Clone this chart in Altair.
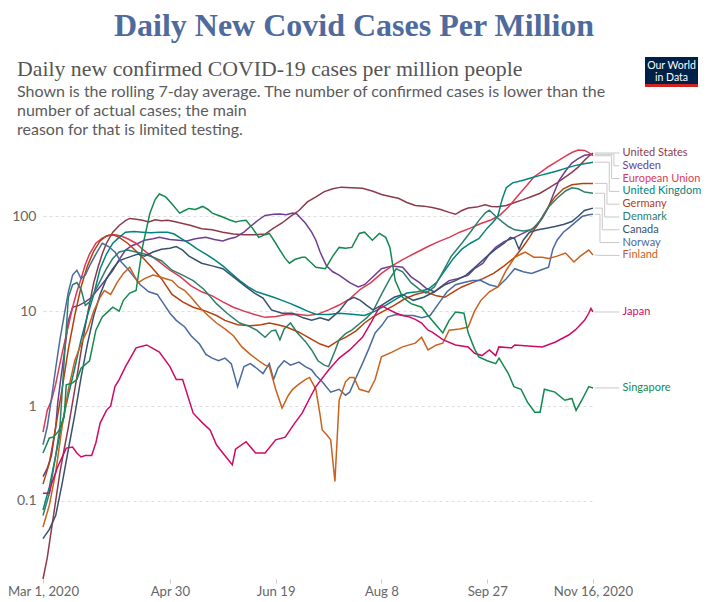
import math

import altair as alt
import pandas as pd

START = pd.Timestamp("2020-03-01")

COUNTRIES = [
    "United States", "Sweden", "European Union", "United Kingdom", "Germany",
    "Denmark", "Canada", "Norway", "Finland", "Japan", "Singapore",
]
COLORS = [
    "#8C3A4B", "#6D3E91", "#DD3A55", "#00847E", "#B5400F",
    "#2D7F6A", "#36526E", "#4C6A9C", "#C9621D", "#CF0A66", "#12894F",
]

# (days after Mar 1 2020, 7-day average cases per million)
united_states = [(0, 0.015), (2, 0.025), (4, 0.05), (6, 0.1), (8, 0.2), (10, 0.35), (12, 0.6), (14, 1.1), (16, 2), (18, 3.8), (20, 7), (22, 12), (24, 20), (26, 29), (28, 40), (30, 52), (33, 68), (36, 80), (39, 90), (41, 95), (44, 93), (47, 91), (50, 87), (53, 92), (56, 90), (59, 91), (62, 88), (66, 84), (70, 80), (75, 74), (80, 72), (85, 68), (90, 65), (95, 64), (100, 64), (105, 65), (109, 75), (113, 85), (117, 100), (121, 115), (125, 142), (129, 160), (133, 182), (137, 195), (141, 203), (146, 200), (151, 198), (156, 184), (160, 170), (164, 162), (168, 155), (172, 140), (176, 130), (180, 128), (184, 124), (188, 118), (192, 110), (195, 105), (198, 115), (201, 122), (205, 125), (209, 132), (212, 127), (215, 126), (219, 130), (223, 140), (227, 150), (231, 162), (235, 175), (239, 198), (243, 225), (247, 260), (250, 290), (253, 330), (256, 390), (258, 430), (260, 465)]
sweden = [(0, 0.18), (2, 0.22), (4, 0.3), (6, 0.6), (7, 1.1), (8.5, 2), (10, 3.5), (12, 8), (14, 11), (17, 11.5), (20, 12.5), (23, 14), (26, 17), (30, 22), (33, 27), (36, 35), (39, 44), (42, 49), (45, 52), (48, 56), (52, 58), (55, 60), (60, 57), (64, 56), (68, 55), (72, 58), (77, 60), (81, 57), (85, 55), (88, 58), (91, 60), (95, 68), (98, 78), (102, 92), (105, 102), (109, 105), (112, 106), (115, 104), (118, 108), (120, 106), (122, 95), (124, 85), (127, 68), (129, 56), (131, 42), (134, 30), (137, 26), (140, 24), (145, 20), (149, 18), (152, 19), (155, 22), (160, 28), (165, 30), (170, 29), (174, 23), (178, 20), (181, 17.5), (185, 16), (188, 18), (192, 21), (196, 22), (201, 24), (204, 28), (208, 32), (211, 40), (214, 47), (218, 54), (223, 60), (228, 68), (233, 77), (236, 95), (239, 125), (241, 165), (244, 240), (247, 300), (250, 364), (253, 405), (256, 440), (260, 450)]
european_union = [(0, 0.53), (2, 0.9), (4, 1.15), (6, 1.7), (8, 2.8), (10, 4.5), (12, 7), (14, 11), (16, 16), (18, 22), (20, 31), (22, 40), (25, 52), (28, 59), (31, 63), (34, 64), (37, 62), (40, 58), (44, 52), (47, 45), (50, 40), (55, 33), (60, 27), (65, 23), (70, 18.5), (75, 16), (80, 14.5), (85, 12.5), (90, 11), (95, 10), (100, 9.2), (105, 8.6), (110, 8.8), (115, 9.2), (120, 9.3), (125, 9), (130, 9.3), (135, 10.3), (140, 11.6), (145, 13.5), (150, 17), (155, 20), (160, 25), (165, 30), (170, 35), (176, 41), (182, 48), (187, 54), (192, 60), (197, 68), (202, 75), (207, 84), (212, 92), (216, 103), (220, 125), (223, 150), (226, 180), (229, 215), (232, 260), (236, 300), (239, 335), (243, 380), (247, 430), (250, 470), (253, 500), (256, 495), (258, 470), (260, 435)]
united_kingdom = [(0, 0.08), (3, 0.14), (6, 0.3), (9, 0.65), (12, 1.3), (15, 2.5), (18, 5), (21, 9), (24, 15), (27, 28), (30, 40), (33, 52), (36, 60), (39, 68), (43, 69), (47, 68), (51, 67), (55, 68), (59, 68), (62, 65), (66, 57), (69, 52), (73, 45), (77, 40), (81, 35), (85, 30), (89, 25), (93, 21), (97, 18), (101, 16), (105, 15), (109, 14), (113, 13), (117, 12), (121, 11), (125, 10), (129, 9.3), (135, 9.2), (140, 9.5), (146, 9.3), (152, 9), (157, 10), (162, 11.5), (167, 13.5), (172, 15.5), (177, 16), (182, 17), (186, 20), (190, 27), (194, 36), (198, 45), (202, 52), (206, 58), (210, 75), (213, 88), (215, 100), (217, 150), (219, 200), (222, 225), (227, 240), (231, 255), (235, 270), (239, 285), (243, 300), (247, 320), (251, 340), (255, 355), (258, 365), (260, 372)]
germany = [(0, 0.15), (3, 0.25), (6, 0.6), (9, 1.5), (12, 4), (15, 9), (18, 18), (21, 30), (24, 43), (27, 55), (30, 62), (33, 64), (36, 60), (40, 52), (44, 43), (48, 35), (52, 28), (56, 22), (61, 15), (66, 12.5), (71, 11), (77, 10), (82, 9), (86, 8), (92, 7.2), (98, 7), (103, 7.2), (107, 7.5), (111, 7.2), (115, 6.8), (121, 6), (126, 5.2), (131, 4.5), (135, 4.2), (139, 4.8), (143, 5.3), (148, 6.2), (152, 7.5), (156, 8.7), (161, 10), (166, 11.5), (171, 13.5), (176, 15), (181, 16), (186, 14.5), (190, 14), (194, 16), (198, 18), (203, 20), (208, 22), (213, 25), (218, 30), (223, 37), (227, 48), (230, 60), (233, 78), (236, 98), (239, 128), (242, 160), (246, 195), (250, 215), (255, 222), (260, 222)]
denmark = [(0, 0.07), (3, 0.12), (6, 0.3), (8, 0.6), (10, 3), (12, 14), (14, 19), (16, 20), (18, 17), (20, 11.5), (22, 12.5), (25, 17), (28, 23), (30, 28), (33, 36), (36, 42), (40, 44), (44, 42), (48, 40), (52, 37), (56, 34), (61, 27), (66, 24), (71, 21), (76, 17), (82, 12), (87, 9.5), (93, 7.5), (97, 7), (101, 6.3), (105, 5.3), (108, 6.2), (110, 6.3), (112, 5), (114, 6.5), (117, 7.5), (120, 6), (124, 4.8), (127, 3.9), (130, 3), (133, 2.7), (135, 2.6), (138, 3.8), (140, 5), (143, 5.8), (146, 6.3), (150, 7.5), (153, 8.5), (156, 10), (160, 15), (164, 22), (167, 28), (170, 26), (174, 20), (178, 17), (181, 15.5), (185, 18), (189, 26), (193, 38), (198, 52), (202, 68), (206, 90), (209, 108), (211, 116), (214, 100), (217, 88), (220, 78), (223, 72), (227, 70), (231, 72), (235, 90), (239, 125), (243, 155), (247, 185), (250, 200), (253, 195), (256, 180), (260, 175)]
canada = [(0, 0.04), (3, 0.05), (6, 0.07), (9, 0.15), (12, 0.35), (15, 0.8), (18, 2), (21, 4.5), (24, 9), (27, 15), (30, 22), (33, 28), (36, 34), (39, 36), (42, 38), (45, 40), (48, 38), (52, 42), (56, 45), (60, 46), (63, 48), (66, 44), (69, 38), (75, 32), (80, 30), (85, 28), (90, 23), (96, 18), (100, 15.5), (104, 13.7), (108, 10.3), (113, 9.5), (118, 9.5), (123, 8.5), (127, 8), (131, 8.5), (135, 8), (140, 10), (144, 13), (147, 14), (150, 13), (153, 11.5), (156, 10.3), (160, 11.5), (166, 14), (170, 15), (175, 13), (180, 14), (185, 16), (190, 19), (195, 21), (200, 24), (205, 30), (210, 38), (214, 45), (218, 52), (221, 60), (223, 58), (225, 45), (227, 56), (230, 68), (234, 72), (238, 75), (242, 78), (246, 82), (250, 88), (253, 100), (256, 115), (260, 122)]
norway = [(0, 0.39), (2, 0.6), (4, 1.2), (6, 2.5), (8, 5), (10, 9), (12, 16), (14, 24), (16, 27), (18, 22), (20, 24), (22, 30), (25, 40), (28, 52), (31, 48), (34, 42), (37, 33), (40, 28), (43, 23), (46, 19), (50, 16), (54, 15), (57, 12), (60, 9.5), (63, 8), (67, 6.8), (70, 5.5), (74, 4.5), (77, 3.5), (80, 3.2), (83, 3), (86, 3.2), (89, 2.8), (92, 1.6), (95, 2.6), (98, 2.8), (101, 2.5), (104, 2.2), (107, 2.8), (109, 1.9), (111, 2.5), (114, 3), (117, 2.7), (121, 2.9), (124, 2.6), (127, 2.4), (129, 2.1), (132, 1.8), (136, 1.4), (140, 1.5), (143, 1.3), (145, 1.4), (148, 2), (151, 2.8), (154, 4), (157, 5.9), (160, 7), (163, 8.7), (167, 9.2), (171, 9), (175, 9), (179, 8.5), (183, 9), (187, 12), (191, 16), (195, 19), (199, 20), (203, 21), (207, 21), (211, 19), (215, 18), (219, 22), (223, 28), (227, 26), (231, 25), (235, 27), (239, 29), (241, 45), (243, 56), (246, 68), (249, 77), (252, 88), (255, 100), (258, 104), (260, 105)]
finland = [(0, 0.053), (3, 0.09), (6, 0.2), (9, 0.6), (12, 1.5), (15, 3), (18, 4.5), (21, 6.3), (24, 10), (27, 14), (29, 16.5), (32, 15), (35, 20), (38, 25), (41, 29), (43, 24), (45, 20), (48, 22), (52, 24), (55, 23), (58, 22), (61, 21), (64, 18), (67, 16.5), (70, 14), (74, 11), (78, 9), (82, 7.5), (86, 6.5), (90, 5.5), (94, 4.2), (98, 3.5), (102, 3), (105, 2.7), (107, 2.6), (110, 1.5), (113, 0.95), (116, 1.3), (118, 1.5), (121, 1.7), (124, 1.9), (126, 2), (129, 1.5), (131, 0.8), (132, 0.56), (134, 0.5), (136, 0.44), (138, 0.16), (140, 1.15), (143, 1.8), (145, 2), (147, 2), (149.5, 1.5), (152, 1.45), (154, 1.4), (157, 1.9), (160, 3.3), (165, 3.7), (170, 4.2), (176, 4.6), (179, 5.3), (182, 3.9), (186, 4.4), (189, 4.6), (192, 6.3), (197, 6.5), (201, 6.8), (204, 10), (207, 13), (211, 16), (215, 18), (219, 27), (223, 37), (226, 40), (228, 42), (232, 37), (236, 37), (239, 36), (243, 38), (247, 41), (251, 33), (254, 38), (258, 44), (260, 39)]
japan = [(0, 0.12), (3, 0.12), (4, 0.15), (7, 0.23), (11, 0.36), (14, 0.37), (16, 0.32), (18, 0.29), (20, 0.3), (23, 0.3), (25, 0.41), (27, 0.66), (30, 0.9), (32, 1.0), (34, 1.6), (36, 1.9), (39, 2.6), (44, 4.1), (49, 4.4), (55, 3.7), (60, 2.6), (63, 1.9), (66, 1.9), (71, 0.84), (75.5, 0.66), (79, 0.56), (82, 0.39), (85, 0.32), (89.5, 0.24), (91, 0.35), (96, 0.42), (100.5, 0.32), (105, 0.32), (110, 0.44), (114.5, 0.47), (119, 0.66), (122.5, 0.84), (126, 1.2), (129, 1.6), (135, 2.4), (140, 3.2), (145, 3.9), (151, 5.3), (155, 7.5), (158, 10), (160, 11.5), (163, 10.5), (167, 9.5), (170, 9), (173, 8.7), (176, 8.2), (179, 7.5), (182, 6.3), (184, 6), (189, 5), (195, 4.4), (201, 4.2), (204, 3.6), (207.5, 3.4), (211, 3.9), (214, 3.4), (215.5, 4.2), (221.5, 4.1), (223, 4.4), (229.5, 4.3), (236, 4.2), (242, 4.7), (248.5, 5.6), (251.5, 6.3), (253, 6.8), (256, 8), (258, 9.5), (259, 10.7), (260, 9.8)]
singapore = [(0, 0.32), (3, 0.46), (5, 0.47), (7.5, 0.55), (10, 0.77), (11, 1.67), (14, 1.75), (16, 1.9), (18, 2.5), (22, 3), (25, 6.3), (28, 8.7), (31, 10), (33, 11), (36, 10), (38, 13), (41, 15.5), (44, 16.5), (47, 47), (50.5, 107), (53, 150), (55, 172), (58, 160), (61, 135), (64.6, 108), (67, 115), (69, 121), (72, 118), (75.5, 127), (78, 118), (80, 108), (84, 100), (88, 92), (91, 87), (94, 90), (96, 91), (99, 75), (102, 60), (105, 64), (107, 66), (110, 52), (112, 44), (114.5, 36), (116.5, 32), (119, 35), (122.5, 37), (124, 37), (127, 32), (129, 29), (133.5, 28), (137, 38), (140, 47), (143, 46), (146, 47), (149.5, 66), (152, 68), (155.7, 56), (159, 66), (162, 60), (164, 47), (166.5, 21), (170, 14), (174, 12), (179, 11), (182, 9), (185, 7.5), (189, 5.9), (192, 8), (195, 9.8), (199, 9.5), (201, 5.9), (204, 4), (206, 3.3), (210, 3), (214, 2.8), (215.6, 3.2), (218, 2.6), (220, 2.2), (222.6, 1.6), (226, 1.5), (229, 1.1), (232.5, 0.86), (235, 0.86), (237, 1.5), (242, 1.4), (246.7, 1.15), (250, 1.2), (252, 0.9), (254.7, 1.15), (258, 1.6), (260, 1.55)]

SERIES = [
    united_states, sweden, european_union, united_kingdom, germany,
    denmark, canada, norway, finland, japan, singapore,
]

TICK_DAYS = [0, 60, 110, 160, 210, 260]
Y_TICKS = [0.1, 1, 10, 100]

TITLE = "Daily New Covid Cases Per Million"
SUBTITLE = "Daily new confirmed COVID-19 cases per million people"
NOTE = ("Shown is the rolling 7-day average. The number of confirmed cases is lower than the\n"
        "number of actual cases; the main\n"
        "reason for that is limited testing.")

WIDTH, HEIGHT = 550, 429


def day_to_date(d):
    return START + pd.Timedelta(days=d)


rows = []
for name, pts in zip(COUNTRIES, SERIES):
    for d, v in pts:
        rows.append({"country": name, "date": day_to_date(d), "value": v})
df = pd.DataFrame(rows)

y_lo, y_hi = df["value"].min(), df["value"].max()
px_per_decade = HEIGHT / (math.log10(y_hi) - math.log10(y_lo))
gap = 12.8 / px_per_decade

# end-of-line labels, pushed apart so they do not overlap
ends = sorted(
    [(name, pts[-1][0], pts[-1][1]) for name, pts in zip(COUNTRIES, SERIES)],
    key=lambda t: -t[2],
)
label_rows, conn_rows = [], []
prev = None
for rank, (name, d_end, v_end) in enumerate(ends):
    pos = math.log10(v_end)
    if prev is not None:
        pos = min(pos, prev - gap)
    prev = pos
    lv = 10 ** pos
    elbow = max(2.0, 11 - 1.1 * rank)
    path = [(d_end + 0.8, v_end), (d_end + elbow, v_end), (d_end + elbow, lv), (d_end + 12.5, lv)]
    for i, (d, v) in enumerate(path):
        conn_rows.append({"country": name, "date": day_to_date(d), "value": v, "step": i})
    label_rows.append({"country": name, "date": day_to_date(d_end + 14), "value": lv})
conn_df = pd.DataFrame(conn_rows)
label_df = pd.DataFrame(label_rows)

tick_dates = [day_to_date(d) for d in TICK_DAYS]
tick_values = [alt.DateTime(year=t.year, month=t.month, date=t.day) for t in tick_dates]
first, last = tick_dates[0], tick_dates[-1]
label_expr = (
    "timeFormat(datum.value, '%b %-d') + "
    f"(((month(datum.value) == {first.month - 1} && date(datum.value) == {first.day}) || "
    f"(month(datum.value) == {last.month - 1} && date(datum.value) == {last.day})) "
    "? timeFormat(datum.value, ', %Y') : '')"
)

x_enc = alt.X(
    "date:T",
    title=None,
    scale=alt.Scale(domain=[tick_values[0], tick_values[-1]]),
    axis=alt.Axis(
        values=tick_values, labelExpr=label_expr, grid=False, domain=False,
        tickColor="#ccc", tickSize=4, labelColor="#666", labelFontSize=13.2,
        labelFont="Lato", labelBaseline="alphabetic", labelPadding=12,
        labelFlush=False, labelOverlap=False,
    ),
)
y_enc = alt.Y(
    "value:Q",
    title=None,
    scale=alt.Scale(type="log", domain=[y_lo, y_hi], nice=False),
    axis=alt.Axis(
        values=Y_TICKS, labelExpr="format(datum.value, '~g')", grid=True,
        gridDash=[3, 3], gridColor="#ddd", domain=False, ticks=False,
        labelPadding=7, labelColor="#666", labelFontSize=14, labelFont="Lato",
    ),
)
color_enc = alt.Color("country:N", scale=alt.Scale(domain=COUNTRIES, range=COLORS), legend=None)

lines = alt.Chart(df).mark_line(strokeWidth=1.5).encode(
    x=x_enc, y=y_enc, color=color_enc, detail="country:N"
)
connectors = alt.Chart(conn_df).mark_line(color="#c8c8c8", strokeWidth=1).encode(
    x=x_enc, y=y_enc, detail="country:N", order="step:Q"
)
labels = alt.Chart(label_df).mark_text(
    align="left", baseline="middle", font="Lato", fontSize=11
).encode(x=x_enc, y=y_enc, text="country:N", color=color_enc)

one = pd.DataFrame({"a": [0]})
header = alt.Chart(one).mark_text(
    text=TITLE, font="Liberation Serif", fontSize=32, fontWeight="bold",
    color="#4F6A9D", align="center", baseline="alphabetic",
).encode(x=alt.value(311), y=alt.value(-114))
subtitle = alt.Chart(one).mark_text(
    text=SUBTITLE, font="Liberation Serif", fontSize=21.8, color="#555",
    align="left", baseline="alphabetic",
).encode(x=alt.value(-26), y=alt.value(-74))
note = alt.Chart(one).mark_text(
    text=NOTE, font="Lato", fontSize=16, color="#5b5b5b", align="left",
    baseline="alphabetic", lineBreak="\n", lineHeight=19,
).encode(x=alt.value(-26), y=alt.value(-53))
logo_box = alt.Chart(one).mark_rect(color="#002147").encode(
    x=alt.value(602), x2=alt.value(655), y=alt.value(-93), y2=alt.value(-66)
)
logo_bar = alt.Chart(one).mark_rect(color="#CE261E").encode(
    x=alt.value(602), x2=alt.value(655), y=alt.value(-66), y2=alt.value(-63)
)
logo_text = alt.Chart(one).mark_text(
    text="Our World\nin Data", lineBreak="\n", lineHeight=12, font="Lato",
    fontSize=10.5, color="white", align="center", baseline="alphabetic",
).encode(x=alt.value(628.5), y=alt.value(-81))

chart = alt.layer(
    lines, connectors, labels, header, subtitle, note, logo_box, logo_bar, logo_text
).properties(
    width=WIDTH,
    height=HEIGHT,
    autosize=alt.AutoSizeParams(type="none"),
    padding={"left": 35, "top": 142, "right": 116, "bottom": 20},
).configure_view(stroke=None)

chart.save("out.html", embed_options={"renderer": "svg", "actions": False})
